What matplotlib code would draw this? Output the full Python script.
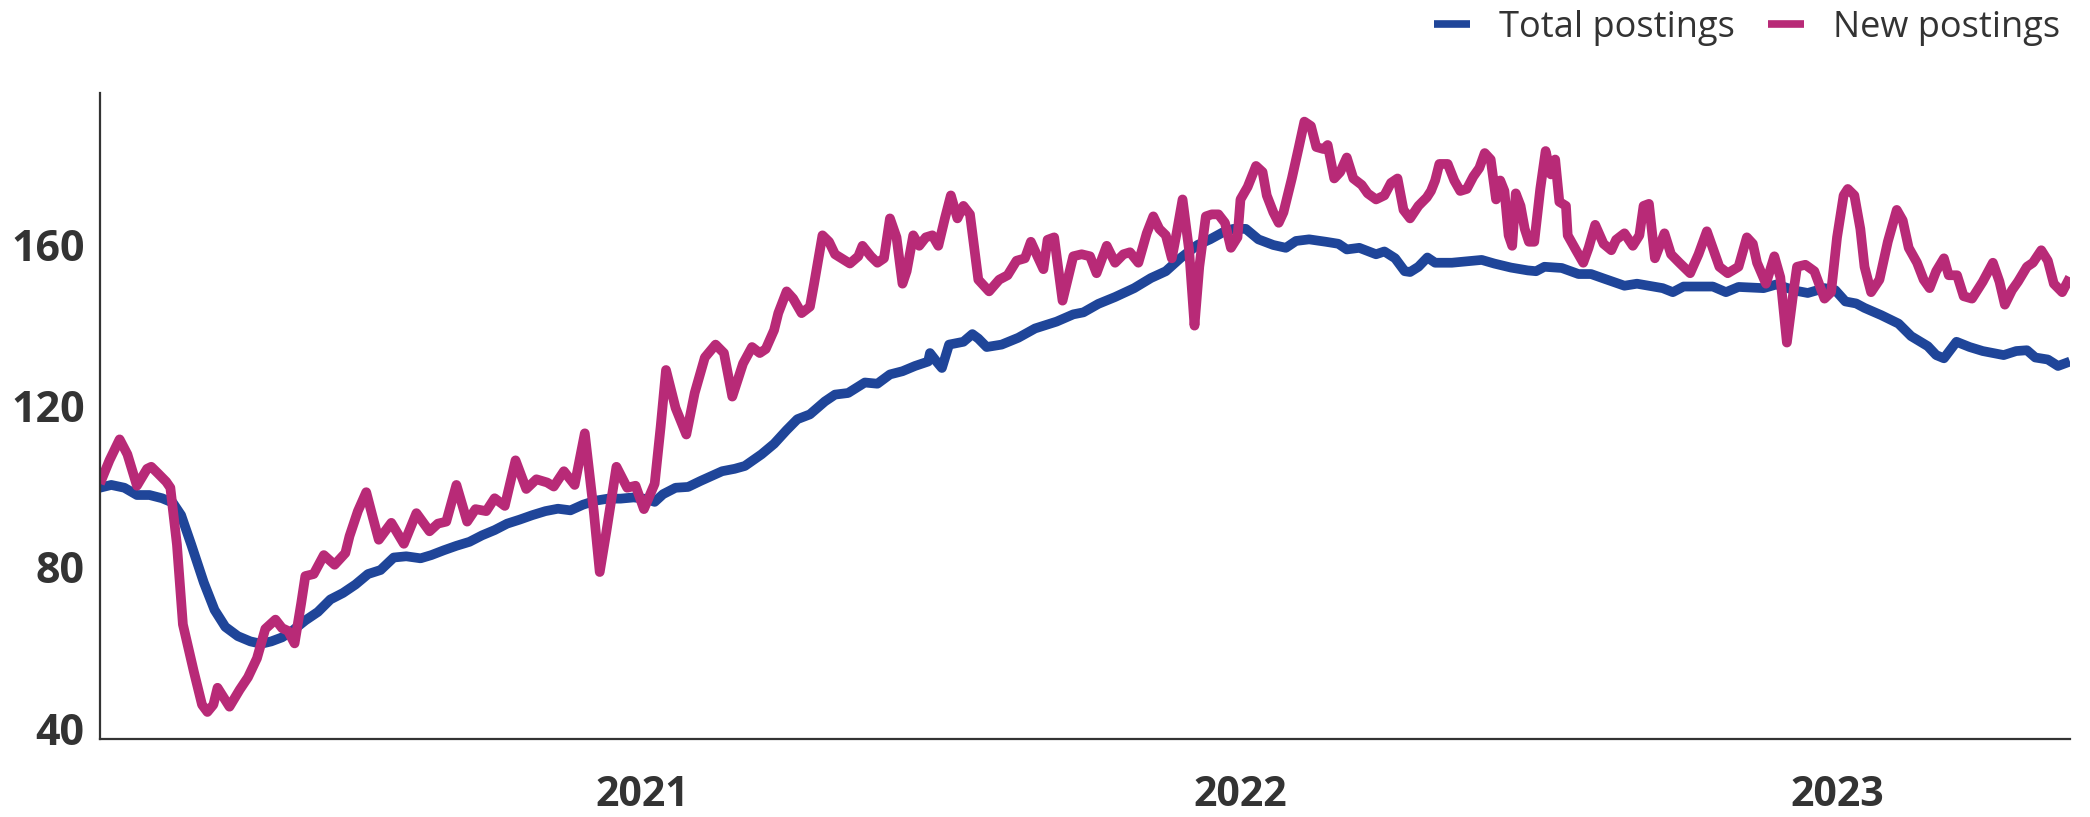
import matplotlib.pyplot as plt

# Index values (x in decimal years)
total_x = [2020.091, 2020.110, 2020.132, 2020.153, 2020.174, 2020.195, 2020.213, 2020.227,
           2020.244, 2020.265, 2020.283, 2020.301, 2020.322, 2020.343, 2020.361, 2020.378,
           2020.396, 2020.413, 2020.435, 2020.456, 2020.477, 2020.498, 2020.519, 2020.540,
           2020.561, 2020.583, 2020.604, 2020.628, 2020.646, 2020.667, 2020.688, 2020.710,
           2020.731, 2020.752, 2020.773, 2020.794, 2020.815, 2020.837, 2020.858, 2020.879,
           2020.900, 2020.921, 2020.942, 2020.963, 2020.985, 2021.006, 2021.020, 2021.034,
           2021.055, 2021.076, 2021.097, 2021.118, 2021.133, 2021.154, 2021.171, 2021.199,
           2021.220, 2021.241, 2021.259, 2021.280, 2021.305, 2021.322, 2021.344, 2021.372,
           2021.393, 2021.414, 2021.435, 2021.456, 2021.478, 2021.481, 2021.492, 2021.501,
           2021.513, 2021.537, 2021.552, 2021.562, 2021.576, 2021.601, 2021.629, 2021.657,
           2021.693, 2021.721, 2021.738, 2021.763, 2021.791, 2021.823, 2021.851, 2021.876,
           2021.900, 2021.929, 2021.950, 2021.971, 2021.989, 2022.010, 2022.031, 2022.056,
           2022.077, 2022.094, 2022.116, 2022.144, 2022.165, 2022.179, 2022.200, 2022.228,
           2022.242, 2022.260, 2022.276, 2022.285, 2022.299, 2022.314, 2022.327, 2022.355,
           2022.405, 2022.426, 2022.454, 2022.482, 2022.496, 2022.510, 2022.539, 2022.567,
           2022.588, 2022.609, 2022.644, 2022.665, 2022.708, 2022.725, 2022.743, 2022.792,
           2022.814, 2022.835, 2022.877, 2022.898, 2022.933, 2022.951, 2022.979, 2022.997,
           2023.014, 2023.032, 2023.046, 2023.074, 2023.103, 2023.124, 2023.152, 2023.166,
           2023.179, 2023.200, 2023.222, 2023.244, 2023.279, 2023.300, 2023.318, 2023.332,
           2023.353, 2023.370, 2023.390]
total_y = [99.6, 100.3, 99.6, 97.8, 97.8, 97.0, 95.9, 92.8,
           85.5, 76.1, 69.3, 65.1, 62.8, 61.5, 60.9, 61.5,
           62.5, 64.1, 66.7, 68.8, 71.9, 73.5, 75.6, 78.2,
           79.2, 82.3, 82.6, 82.1, 82.9, 84.1, 85.2, 86.2,
           87.8, 89.1, 90.7, 91.7, 92.8, 93.8, 94.4, 94.0,
           95.4, 96.4, 96.9, 96.9, 97.2, 96.8, 96.1, 98.0,
           99.6, 99.8, 101.3, 102.7, 103.7, 104.3, 105.0, 107.9,
           110.5, 113.9, 116.6, 117.8, 121.0, 122.7, 123.1, 125.7,
           125.4, 127.7, 128.5, 129.8, 130.9, 133.0, 130.9, 129.3,
           135.1, 135.8, 137.7, 136.6, 134.5, 135.1, 136.8, 139.1,
           140.8, 142.6, 143.1, 145.2, 146.9, 149.1, 151.6, 153.3,
           156.5, 159.8, 161.2, 162.9, 163.8, 163.8, 161.2, 159.8,
           159.1, 160.8, 161.2, 160.6, 160.1, 158.7, 159.1, 157.5,
           158.2, 156.5, 153.3, 153.1, 154.4, 156.7, 155.4, 155.4,
           156.1, 155.2, 154.2, 153.5, 153.3, 154.4, 154.1, 152.6,
           152.6, 151.5, 149.7, 150.2, 149.1, 148.1, 149.5, 149.5,
           148.1, 149.4, 149.1, 150.0, 148.4, 147.9, 149.1, 148.6,
           145.8, 145.3, 144.2, 142.4, 140.3, 137.2, 134.7, 132.5,
           131.7, 135.8, 134.5, 133.5, 132.5, 133.5, 133.7, 131.9,
           131.4, 129.8, 130.9]

new_x = [2020.091, 2020.107, 2020.124, 2020.137, 2020.153, 2020.170, 2020.177, 2020.188,
         2020.202, 2020.209, 2020.220, 2020.230, 2020.248, 2020.262, 2020.271, 2020.281,
         2020.288, 2020.308, 2020.325, 2020.339, 2020.354, 2020.368, 2020.385, 2020.396,
         2020.406, 2020.417, 2020.428, 2020.435, 2020.449, 2020.466, 2020.484, 2020.502,
         2020.509, 2020.523, 2020.537, 2020.547, 2020.558, 2020.579, 2020.600, 2020.621,
         2020.643, 2020.657, 2020.671, 2020.688, 2020.706, 2020.720, 2020.738, 2020.752,
         2020.769, 2020.787, 2020.805, 2020.822, 2020.840, 2020.851, 2020.868, 2020.886,
         2020.903, 2020.918, 2020.928, 2020.939, 2020.956, 2020.974, 2020.988, 2021.002,
         2021.020, 2021.030, 2021.039, 2021.055, 2021.073, 2021.087, 2021.104, 2021.122,
         2021.136, 2021.150, 2021.168, 2021.183, 2021.196, 2021.206, 2021.220, 2021.227,
         2021.241, 2021.252, 2021.266, 2021.280, 2021.287, 2021.301, 2021.312, 2021.322,
         2021.347, 2021.361, 2021.368, 2021.382, 2021.393, 2021.404, 2021.414, 2021.425,
         2021.435, 2021.442, 2021.453, 2021.463, 2021.474, 2021.485, 2021.495, 2021.506,
         2021.516, 2021.527, 2021.537, 2021.548, 2021.562, 2021.580, 2021.597, 2021.611,
         2021.626, 2021.640, 2021.650, 2021.661, 2021.671, 2021.678, 2021.689, 2021.703,
         2021.721, 2021.735, 2021.749, 2021.760, 2021.777, 2021.791, 2021.805, 2021.816,
         2021.830, 2021.844, 2021.855, 2021.865, 2021.876, 2021.886, 2021.894, 2021.904,
         2021.915, 2021.924, 2021.932, 2021.943, 2021.953, 2021.964, 2021.975, 2021.985,
         2021.996, 2022.001, 2022.013, 2022.027, 2022.038, 2022.045, 2022.056, 2022.065,
         2022.073, 2022.087, 2022.098, 2022.108, 2022.119, 2022.128, 2022.140, 2022.147,
         2022.158, 2022.168, 2022.179, 2022.190, 2022.204, 2022.214, 2022.228, 2022.242,
         2022.253, 2022.264, 2022.274, 2022.285, 2022.299, 2022.313, 2022.320, 2022.327,
         2022.334, 2022.348, 2022.359, 2022.369, 2022.380, 2022.391, 2022.401, 2022.410,
         2022.420, 2022.429, 2022.436, 2022.443, 2022.450, 2022.456, 2022.462, 2022.470,
         2022.477, 2022.484, 2022.493, 2022.503, 2022.512, 2022.521, 2022.528, 2022.535,
         2022.546, 2022.549, 2022.563, 2022.575, 2022.584, 2022.595, 2022.609, 2022.622,
         2022.630, 2022.644, 2022.658, 2022.669, 2022.676, 2022.685, 2022.695, 2022.711,
         2022.722, 2022.736, 2022.754, 2022.768, 2022.782, 2022.803, 2022.817, 2022.835,
         2022.849, 2022.859, 2022.866, 2022.881, 2022.895, 2022.905, 2022.916, 2022.926,
         2022.933, 2022.947, 2022.962, 2022.979, 2022.990, 2023.000, 2023.011, 2023.018,
         2023.029, 2023.039, 2023.046, 2023.057, 2023.071, 2023.085, 2023.100, 2023.110,
         2023.120, 2023.134, 2023.145, 2023.155, 2023.166, 2023.179, 2023.187, 2023.201,
         2023.212, 2023.226, 2023.244, 2023.261, 2023.272, 2023.281, 2023.293, 2023.303,
         2023.318, 2023.328, 2023.342, 2023.353, 2023.363, 2023.377, 2023.390]
new_y = [100.6, 106.4, 111.6, 107.9, 100.1, 104.3, 104.8, 103.2,
         101.1, 99.6, 85.5, 65.7, 54.2, 45.8, 44.0, 45.8,
         50.0, 45.3, 49.5, 52.6, 57.3, 64.6, 66.9, 64.8,
         64.1, 61.0, 70.9, 77.7, 78.2, 82.9, 80.5, 83.4,
         87.6, 93.8, 98.5, 92.8, 86.7, 90.9, 85.7, 93.3,
         88.8, 90.7, 91.2, 100.3, 91.2, 94.3, 93.8, 97.0,
         95.1, 106.4, 99.3, 101.7, 100.9, 99.9, 103.7, 100.3,
         113.1, 93.8, 78.7, 88.6, 104.8, 99.6, 100.1, 94.3,
         100.6, 114.7, 128.8, 119.4, 112.8, 123.1, 131.9, 135.1,
         133.0, 122.2, 130.4, 134.5, 133.0, 134.0, 138.7, 142.9,
         148.3, 146.5, 142.9, 144.5, 150.2, 162.2, 160.6, 157.5,
         155.2, 157.0, 159.6, 157.0, 155.4, 156.5, 166.4, 161.7,
         150.2, 153.3, 162.2, 159.6, 161.7, 162.2, 159.6, 166.4,
         172.1, 166.4, 169.5, 167.4, 151.2, 148.3, 151.2, 152.3,
         155.9, 156.5, 160.6, 157.0, 153.8, 161.1, 161.7, 146.0,
         157.0, 157.5, 157.0, 152.8, 159.6, 155.4, 157.5, 158.0,
         155.4, 162.7, 166.9, 163.8, 162.2, 156.5, 162.7, 171.1,
         158.5, 139.8, 154.4, 166.9, 167.4, 167.4, 165.3, 159.1,
         161.7, 171.1, 174.2, 179.4, 177.9, 172.1, 167.9, 165.3,
         167.9, 176.3, 183.6, 190.4, 189.3, 184.1, 183.6, 184.6,
         176.3, 177.9, 181.5, 176.3, 174.7, 172.6, 171.1, 172.1,
         175.2, 176.3, 168.5, 166.4, 169.5, 171.6, 173.2, 175.8,
         179.9, 179.9, 175.8, 173.2, 173.7, 176.8, 178.9, 182.6,
         181.0, 171.1, 175.8, 173.2, 162.2, 159.6, 172.6, 169.5,
         163.8, 160.6, 160.6, 173.7, 183.1, 177.3, 181.0, 170.5,
         169.5, 162.2, 158.5, 155.4, 159.1, 164.8, 160.1, 158.5,
         161.1, 162.7, 159.6, 162.2, 169.5, 170.0, 156.5, 162.7,
         157.5, 155.4, 152.8, 157.5, 163.2, 154.4, 152.8, 154.4,
         161.7, 160.1, 155.4, 150.2, 157.0, 151.8, 135.6, 147.1,
         154.4, 154.9, 153.3, 146.5, 148.1, 161.7, 172.1, 173.7,
         172.1, 163.8, 154.4, 148.1, 151.2, 160.6, 168.5, 165.9,
         159.1, 155.4, 151.2, 149.1, 153.3, 156.5, 152.3, 152.3,
         147.1, 146.5, 150.7, 155.4, 150.7, 145.0, 148.6, 150.7,
         154.4, 155.4, 158.5, 155.9, 150.2, 148.1, 151.8]

year_ticks = [2021, 2022, 2023]
year_labels = ['2021', '2022', '2023']
value_ticks = [40, 80, 120, 160]

blue = '#1f4599'
magenta = '#b82a77'
dark = '#333333'

plt.rcParams['font.family'] = ['Open Sans', 'DejaVu Sans']

fig = plt.figure(figsize=(20.9, 8.17), dpi=100)
ax = fig.add_axes([0.0478, 0.0955, 0.9426, 0.7907])

ax.plot(total_x, total_y, color=blue, lw=7, solid_joinstyle='round',
        solid_capstyle='butt', label='Total postings')
ax.plot(new_x, new_y, color=magenta, lw=7, solid_joinstyle='round',
        solid_capstyle='butt', label='New postings')

ax.set_xlim(min(total_x), max(total_x))
ax.set_ylim(37.3, 197.5)

ax.set_xticks(year_ticks)
ax.set_xticklabels(year_labels, fontsize=29.5, fontweight='bold', color=dark)
ax.set_yticks(value_ticks)
ax.set_yticklabels([str(v) for v in value_ticks], fontsize=31, fontweight='bold', color=dark)
ax.tick_params(axis='x', length=0, pad=26)
ax.tick_params(axis='y', length=0, pad=11)

for side in ['top', 'right']:
    ax.spines[side].set_visible(False)
for side in ['left', 'bottom']:
    ax.spines[side].set_color(dark)
    ax.spines[side].set_linewidth(1.6)

leg = fig.legend(loc='center right', bbox_to_anchor=(0.9855, 0.966), ncol=2,
                 frameon=False, fontsize=26, handlelength=1.0, handletextpad=0.8,
                 columnspacing=0.9, borderpad=0, borderaxespad=0)
for t in leg.get_texts():
    t.set_color(dark)
for h in leg.get_lines():
    h.set_linewidth(5.5)

fig.savefig('out.png', dpi=100)
